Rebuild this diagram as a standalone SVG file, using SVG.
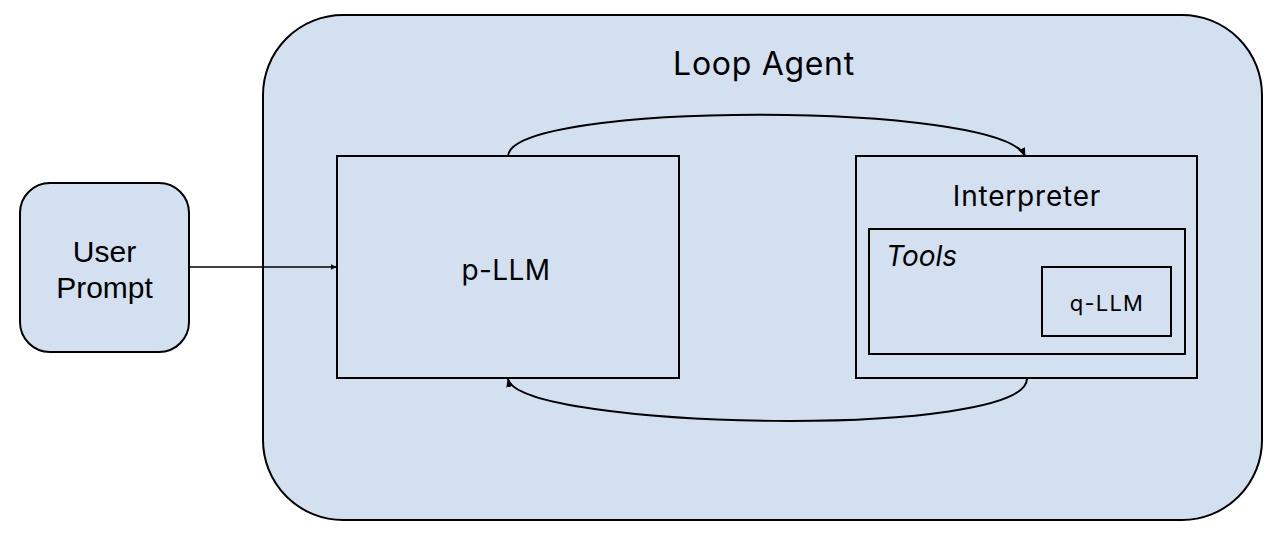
<svg xmlns="http://www.w3.org/2000/svg" width="1280" height="538" viewBox="0 0 1280 538">
<style>
.box{fill:#d3e0f0;stroke:#000;stroke-width:2}
.in{fill:none;stroke:#000;stroke-width:2}
.t{font-family:Inter,"Noto Sans",sans-serif;fill:#000}
.a{font-family:"Liberation Sans",Arial,sans-serif;fill:#000}
.c{fill:none;stroke:#000;stroke-width:2}
</style>
<defs>
<marker id="ah" viewBox="0 0 10 10" refX="9" refY="5" markerWidth="6" markerHeight="6" orient="auto" markerUnits="userSpaceOnUse">
<path d="M0,0 L10,5 L0,10 z" fill="#000"/>
</marker>
<marker id="ah2" viewBox="0 0 10 10" refX="9" refY="5" markerWidth="9" markerHeight="9" orient="auto" markerUnits="userSpaceOnUse">
<path d="M0,1 L10,5 L0,9 z" fill="#000"/>
</marker>
</defs>
<rect width="1280" height="538" fill="#fff"/>
<g id="loop-agent">
<rect class="box" x="263" y="15" width="999" height="505" rx="80" ry="80"/>
<text class="t" x="764" y="75" font-size="32" letter-spacing="0.7" text-anchor="middle">Loop Agent</text>
</g>
<g id="user-prompt">
<rect class="box" x="20" y="183" width="169" height="169" rx="30" ry="30"/>
<text class="a" x="104.5" y="262" font-size="30" text-anchor="middle">User</text>
<text class="a" x="104.5" y="298" font-size="30" text-anchor="middle">Prompt</text>
</g>
<g id="p-llm">
<rect class="in" x="337" y="156" width="342" height="222"/>
<text class="t" x="506" y="280" font-size="28" letter-spacing="0.4" text-anchor="middle">p-LLM</text>
</g>
<g id="interpreter">
<rect class="in" x="856" y="156" width="341" height="222"/>
<text class="t" x="1027" y="206" font-size="28" letter-spacing="0.8" text-anchor="middle">Interpreter</text>
</g>
<g id="tools">
<rect class="in" x="869" y="229" width="316" height="125"/>
<text class="t" x="886" y="266" font-size="28" font-style="italic">Tools</text>
</g>
<g id="q-llm">
<rect class="in" x="1042" y="267" width="129" height="69"/>
<text class="t" x="1107" y="311" font-size="22" letter-spacing="1.2" text-anchor="middle">q-LLM</text>
</g>
<g id="connectors">
<path class="c" style="stroke-width:1.5" d="M189,267 L336,267" marker-end="url(#ah)"/>
<path class="c" d="M508,156 C512,101 1000,101 1025,156" marker-end="url(#ah2)"/>
<path class="c" d="M1027,378 C1030,440 520,430 508,379" marker-end="url(#ah2)"/>
</g>
</svg>
